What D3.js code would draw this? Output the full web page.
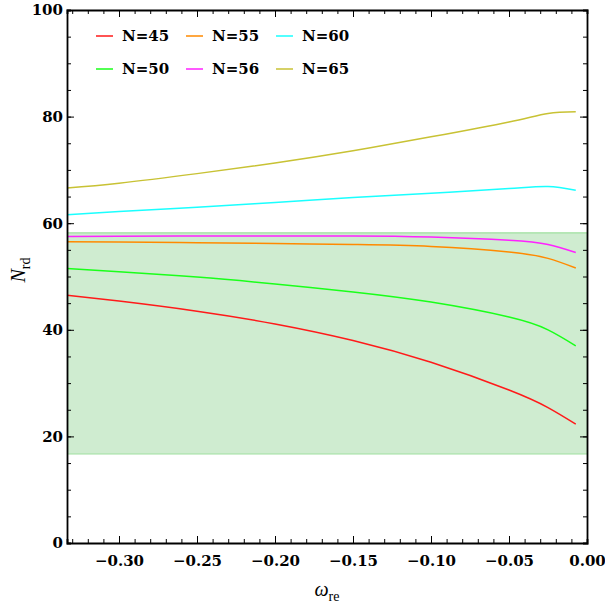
<!DOCTYPE html>
<html lang="en">
  <head>
    <meta charset="UTF-8" />
    <title>N_rd vs omega_re</title>
    <script src="https://d3js.org/d3.v7.min.js"></script>
    <style>
      body { margin: 0; background: #fff; }
      text { font-family: "DejaVu Serif", serif; }
    </style>
  </head>
  <body>
    <script>
      const width = 605;
      const height = 605;

      // data
      const omega = [-0.3333, -0.30, -0.25, -0.20, -0.15, -0.10, -0.05, -0.025, -0.0072];
      const n45 = [46.5, 45.4, 43.5, 41.1, 38.0, 33.9, 28.7, 25.4, 22.3];
      const n50 = [51.5, 50.9, 49.9, 48.6, 47.1, 45.2, 42.4, 40.0, 37.0];
      const n55 = [56.5, 56.45, 56.35, 56.2, 56.0, 55.65, 54.6, 53.4, 51.6];
      const n56 = [57.5, 57.55, 57.6, 57.6, 57.6, 57.4, 56.8, 56.0, 54.5];
      const n60 = [61.6, 62.2, 63.0, 63.9, 64.8, 65.6, 66.5, 66.9, 66.2];
      const n65 = [66.6, 67.5, 69.3, 71.3, 73.6, 76.2, 79.0, 80.6, 80.9];
      const labels = ["N=45", "N=50", "N=55", "N=56", "N=60", "N=65"];
      const colors = ["#ff1a1a", "#1aff1a", "#ff8a00", "#ff22ff", "#1affff", "#c8c234"];
      const band = [16.7, 58.2];
      const xTicks = [-0.30, -0.25, -0.20, -0.15, -0.10, -0.05, 0.0];
      const yTicks = [0, 20, 40, 60, 80, 100];

      const series = [n45, n50, n55, n56, n60, n65];

      const svg = d3.select("body").append("svg")
        .attr("width", width)
        .attr("height", height);

      const x = d3.scaleLinear().domain([-1 / 3, 0]).range([67, 587]);
      const y = d3.scaleLinear().domain([0, 100]).range([543, 10]);

      // shaded band
      svg.append("rect")
        .attr("x", x(-1 / 3))
        .attr("y", y(band[1]))
        .attr("width", x(0) - x(-1 / 3))
        .attr("height", y(band[0]) - y(band[1]))
        .attr("fill", "#cfecd0");
      band.forEach(v => {
        svg.append("line")
          .attr("x1", x(-1 / 3)).attr("x2", x(0))
          .attr("y1", y(v)).attr("y2", y(v))
          .attr("stroke", "#9fe09f")
          .attr("stroke-width", 1.2);
      });

      // curves
      const line = d3.line()
        .x(d => x(d[0]))
        .y(d => y(d[1]))
        .curve(d3.curveNatural);

      series.forEach((s, i) => {
        svg.append("path")
          .datum(omega.map((w, j) => [w, s[j]]))
          .attr("fill", "none")
          .attr("stroke", colors[i])
          .attr("stroke-width", 1.5)
          .attr("d", line);
      });

      // axes (frame with inward ticks)
      const minorX = d3.range(-0.33, 0.0001, 0.01);
      const minorY = d3.range(0, 100.1, 5);

      function styleAxis(g) {
        g.select(".domain").attr("stroke", "#000").attr("stroke-width", 1.8);
        g.selectAll(".tick line").attr("stroke", "#000").attr("stroke-width", 1);
        g.selectAll("text")
          .attr("fill", "#000")
          .style("font-size", "15px")
          .style("font-weight", "bold")
          .style("font-family", "'DejaVu Serif', serif");
      }

      const fmtX = d => d === 0 ? "0.00" : d3.format(".2f")(d).replace("-", "\u2212");

      svg.append("g")
        .attr("transform", `translate(0,${y(0)})`)
        .call(d3.axisBottom(x).tickValues(minorX).tickSize(-4).tickFormat(""))
        .call(styleAxis);
      svg.append("g")
        .attr("transform", `translate(0,${y(0)})`)
        .call(d3.axisBottom(x).tickValues(xTicks).tickSize(-7).tickPadding(12).tickFormat(fmtX))
        .call(styleAxis)
        .call(g => g.select(".domain").remove());

      svg.append("g")
        .attr("transform", `translate(0,${y(100)})`)
        .call(d3.axisTop(x).tickValues(minorX).tickSize(-4).tickFormat(""))
        .call(styleAxis);
      svg.append("g")
        .attr("transform", `translate(0,${y(100)})`)
        .call(d3.axisTop(x).tickValues(xTicks).tickSize(-7).tickFormat(""))
        .call(styleAxis)
        .call(g => g.select(".domain").remove());

      svg.append("g")
        .attr("transform", `translate(${x(-1 / 3)},0)`)
        .call(d3.axisLeft(y).tickValues(minorY).tickSize(-4).tickFormat(""))
        .call(styleAxis);
      svg.append("g")
        .attr("transform", `translate(${x(-1 / 3)},0)`)
        .call(d3.axisLeft(y).tickValues(yTicks).tickSize(-7).tickPadding(4).tickFormat(d3.format("d")))
        .call(styleAxis)
        .call(g => g.select(".domain").remove());

      svg.append("g")
        .attr("transform", `translate(${x(0)},0)`)
        .call(d3.axisRight(y).tickValues(minorY).tickSize(-4).tickFormat(""))
        .call(styleAxis);
      svg.append("g")
        .attr("transform", `translate(${x(0)},0)`)
        .call(d3.axisRight(y).tickValues(yTicks).tickSize(-7).tickFormat(""))
        .call(styleAxis)
        .call(g => g.select(".domain").remove());

      // axis titles
      svg.append("text")
        .attr("x", 327)
        .attr("y", 596)
        .attr("text-anchor", "middle")
        .style("font-family", "'Liberation Serif', serif")
        .style("font-size", "20px")
        .html(`<tspan font-style="italic">ω</tspan><tspan dy="5" font-size="14px">re</tspan>`);

      svg.append("text")
        .attr("transform", "translate(25,270) rotate(-90)")
        .attr("text-anchor", "middle")
        .style("font-family", "'Liberation Serif', serif")
        .style("font-size", "20px")
        .html(`<tspan font-style="italic">N</tspan><tspan dy="5" font-size="14px">rd</tspan>`);

      // legend
      const legend = svg.append("g");
      labels.forEach((lab, i) => {
        const col = Math.floor(i / 2);
        const row = i % 2;
        const lx = 96 + col * 90;
        const ly = 36 + row * 33;
        legend.append("line")
          .attr("x1", lx).attr("x2", lx + 17)
          .attr("y1", ly).attr("y2", ly)
          .attr("stroke", colors[i])
          .attr("stroke-width", 1.5);
        legend.append("text")
          .attr("x", lx + 26)
          .attr("y", ly + 5)
          .style("font-size", "15px")
          .style("font-weight", "bold")
          .text(lab);
      });
    </script>
  </body>
</html>
